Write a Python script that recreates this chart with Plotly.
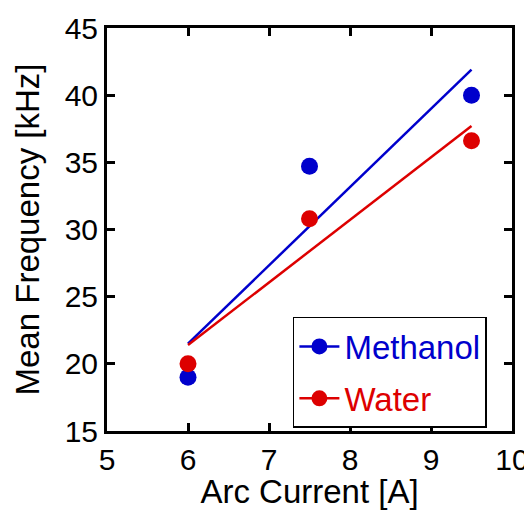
import plotly.graph_objects as go

# Data
current = [6, 7.5, 9.5]
methanol = [19.0, 34.7, 40.0]
water = [20.0, 30.8, 36.6]

fit_current = [6, 9.5]
methanol_fit = [21.5, 41.9]
water_fit = [21.4, 37.7]

x_ticks = [5, 6, 7, 8, 9, 10]
y_ticks = [15, 20, 25, 30, 35, 40, 45]

BLUE = "#0000cc"
RED = "#dd0000"
FONT = "Liberation Sans, Arial, Helvetica, sans-serif"

fig = go.Figure()

# Fit lines
fig.add_trace(go.Scatter(x=fit_current, y=methanol_fit, mode="lines",
                         line=dict(color=BLUE, width=2.5), showlegend=False))
fig.add_trace(go.Scatter(x=fit_current, y=water_fit, mode="lines",
                         line=dict(color=RED, width=2.5), showlegend=False))
# Data markers
fig.add_trace(go.Scatter(x=current, y=methanol, mode="markers",
                         marker=dict(color=BLUE, size=17), showlegend=False))
fig.add_trace(go.Scatter(x=current, y=water, mode="markers",
                         marker=dict(color=RED, size=17), showlegend=False))
# Legend entries
fig.add_trace(go.Scatter(x=[None], y=[None], mode="lines+markers",
                         name=f"<span style='color:{BLUE}'>Methanol</span>",
                         line=dict(color=BLUE, width=2.5),
                         marker=dict(color=BLUE, size=17), legendgroup="m"))
fig.add_trace(go.Scatter(x=[None], y=[None], mode="lines+markers",
                         name=f"<span style='color:{RED}'>Water</span>",
                         line=dict(color=RED, width=2.5),
                         marker=dict(color=RED, size=17), legendgroup="w"))

axis_common = dict(
    showline=True, linecolor="black", linewidth=3, mirror="ticks",
    ticks="inside", ticklen=8, tickwidth=3, tickcolor="black",
    showgrid=False, zeroline=False,
    tickfont=dict(family=FONT, size=30, color="black"),
)

fig.update_xaxes(range=[5, 10], tickvals=x_ticks,
                 ticktext=[str(v) for v in x_ticks],
                 title=dict(text="Arc Current [A]", standoff=0,
                            font=dict(family=FONT, size=33, color="black")),
                 **axis_common)
fig.update_yaxes(range=[15, 45], tickvals=y_ticks,
                 ticktext=[str(v) for v in y_ticks],
                 title=dict(text="Mean Frequency [kHz]", standoff=16,
                            font=dict(family=FONT, size=33, color="black")),
                 **axis_common)

fig.update_layout(
    width=524, height=502,
    margin=dict(l=99, r=20, t=20, b=79, autoexpand=False),
    plot_bgcolor="white", paper_bgcolor="white",
    font=dict(family=FONT, color="black"),
    legend=dict(x=0.459, y=0.283, xanchor="left", yanchor="top",
                bgcolor="white", bordercolor="black", borderwidth=1.5,
                font=dict(family=FONT, size=33),
                traceorder="grouped", tracegroupgap=6,
                itemwidth=40),
)

fig.write_html("out.html")
